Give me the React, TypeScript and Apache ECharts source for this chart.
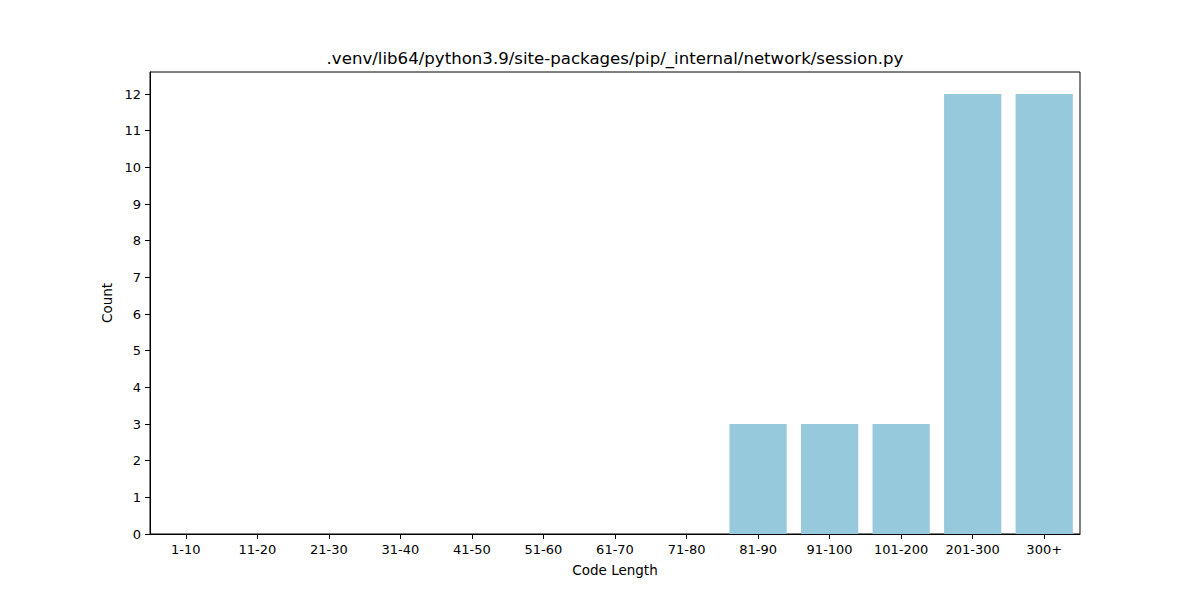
import React, { useEffect, useRef } from "react";
import * as echarts from "echarts";

const title = ".venv/lib64/python3.9/site-packages/pip/_internal/network/session.py";
const categories = ["1-10", "11-20", "21-30", "31-40", "41-50", "51-60", "61-70", "71-80", "81-90", "91-100", "101-200", "201-300", "300+"];
const counts = [0, 0, 0, 0, 0, 0, 0, 0, 3, 3, 3, 12, 12];
const yTicks = [0, 1, 2, 3, 4, 5, 6, 7, 8, 9, 10, 11, 12];

export default function App() {
  const ref = useRef<HTMLDivElement>(null);
  useEffect(() => {
    if (!ref.current) return;
    const chart = echarts.init(ref.current, null, { renderer: "svg" });
    const font = "DejaVu Sans";
    chart.setOption({
      animation: false,
      backgroundColor: "#ffffff",
      textStyle: { fontFamily: font },
      title: {
        text: title,
        left: 610,
        textAlign: "center",
        top: 45,
        textStyle: { fontFamily: font, fontSize: 16.6, fontWeight: "normal", color: "#000" },
      },
      grid: {
        left: 150,
        right: 120,
        top: 72,
        bottom: 66,
        show: true,
        borderColor: "#000",
        borderWidth: 1,
        containLabel: false,
      },
      xAxis: {
        type: "category",
        data: categories,
        name: "Code Length",
        nameLocation: "middle",
        nameGap: 29,
        nameTextStyle: { fontFamily: font, fontSize: 13.5, color: "#000" },
        axisLine: { show: true, lineStyle: { color: "#000", width: 1 } },
        axisTick: { show: true, alignWithLabel: true, length: 5, lineStyle: { color: "#000" } },
        axisLabel: { fontFamily: font, fontSize: 13, color: "#000", margin: 9, interval: 0 },
        splitLine: { show: false },
      },
      yAxis: {
        type: "value",
        min: 0,
        max: 12.6,
        interval: 1,
        name: "Count",
        nameLocation: "middle",
        nameGap: 34,
        nameTextStyle: { fontFamily: font, fontSize: 13.5, color: "#000" },
        axisLine: { show: true, lineStyle: { color: "#000", width: 1 } },
        axisTick: { show: true, length: 5, lineStyle: { color: "#000" } },
        axisLabel: {
          fontFamily: font,
          fontSize: 13,
          color: "#000",
          margin: 9,
          showMaxLabel: false,
          formatter: (v: number) => (yTicks.includes(v) ? String(v) : ""),
        },
        splitLine: { show: false },
      },
      series: [
        {
          type: "bar",
          data: counts,
          barCategoryGap: "20%",
          itemStyle: { color: "#96c9dc" },
        },
      ],
    });
    return () => chart.dispose();
  }, []);
  return <div ref={ref} style={{ position: "fixed", left: 0, top: 0, width: 1200, height: 600 }} />;
}
